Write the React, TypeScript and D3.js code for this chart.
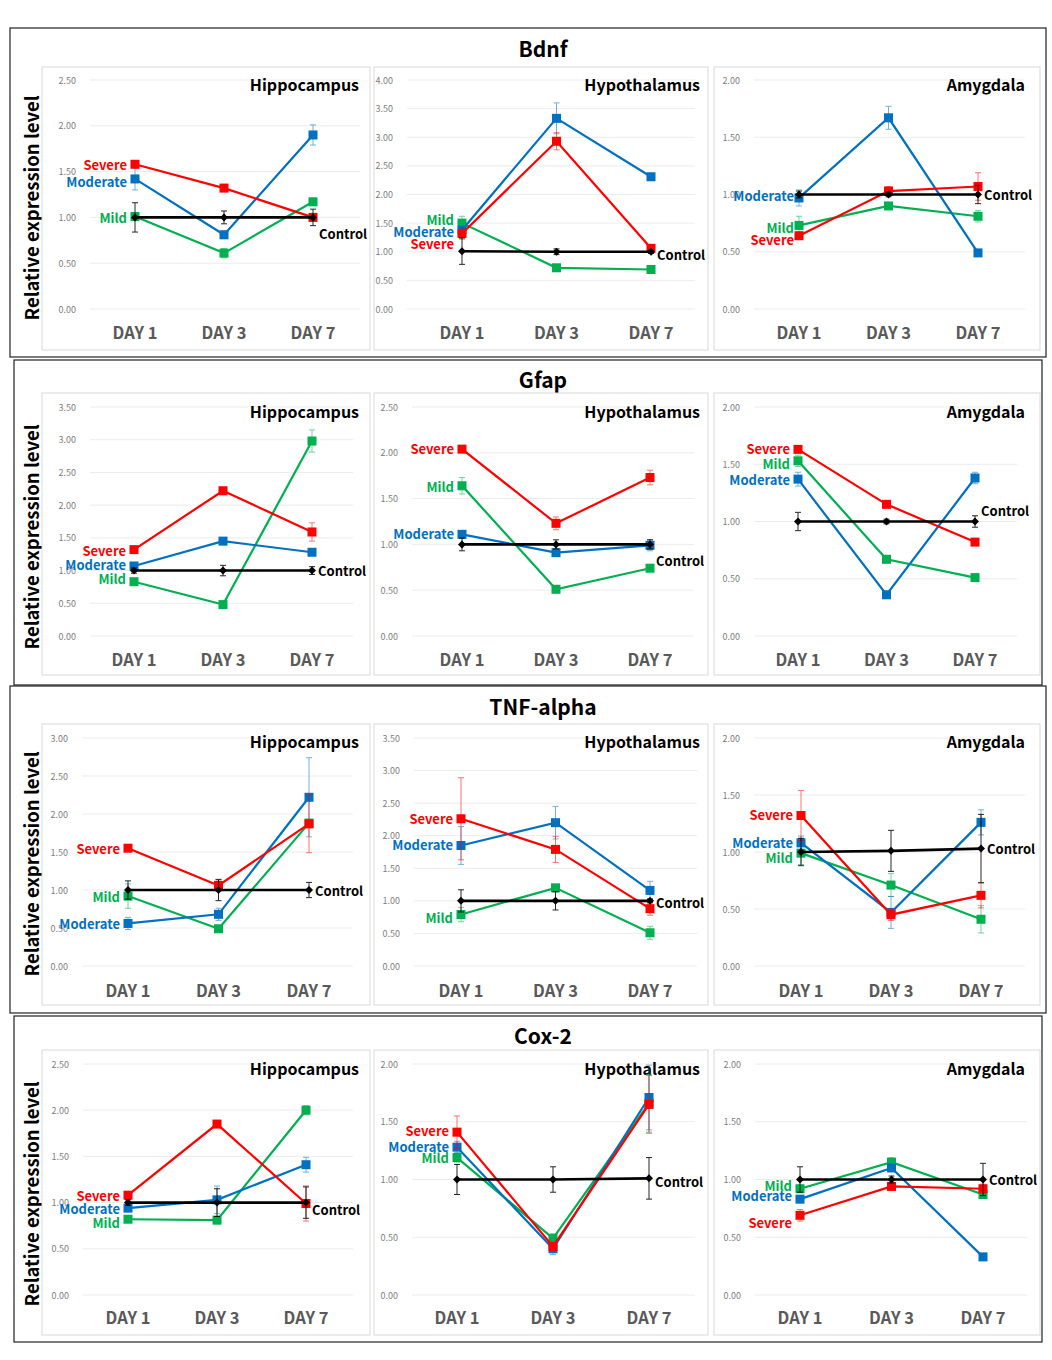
import React from 'react';
import * as d3 from 'd3';

const days = ['DAY 1', 'DAY 3', 'DAY 7'];
const genes = ['Bdnf', 'Gfap', 'TNF-alpha', 'Cox-2'];
const regions = ['Hippocampus', 'Hypothalamus', 'Amygdala'];
const groups = ['Mild', 'Moderate', 'Severe', 'Control'];
const yMax = [[2.5, 4, 2], [3.5, 2.5, 2], [3, 3.5, 2], [2.5, 2, 2]];

// values: [gene][region][day]
const mild = [
  [[1.01, 0.61, 1.17], [1.5, 0.72, 0.69], [0.73, 0.9, 0.81]],
  [[0.83, 0.48, 2.98], [1.64, 0.51, 0.74], [1.53, 0.67, 0.51]],
  [[0.92, 0.49, 1.88], [0.79, 1.2, 0.51], [0.99, 0.71, 0.41]],
  [[0.82, 0.81, 2.0], [1.19, 0.49, 1.66], [0.92, 1.15, 0.87]],
];
const mildErr = [
  [[0.04, 0.05, 0.04], [0.12, 0.03, 0.03], [0.08, 0.03, 0.05]],
  [[0.04, 0.03, 0.17], [0.09, 0.03, 0.03], [0.05, 0.03, 0.03]],
  [[0.16, 0.03, 0.05], [0.11, 0.05, 0.1], [0.1, 0.1, 0.12]],
  [[0.03, 0.03, 0.05], [0.04, 0.04, 0.25], [0.03, 0.04, 0.03]],
];
const moderate = [
  [[1.42, 0.81, 1.9], [1.38, 3.33, 2.31], [0.97, 1.67, 0.49]],
  [[1.07, 1.45, 1.28], [1.11, 0.91, 0.99], [1.37, 0.36, 1.38]],
  [[0.56, 0.68, 2.22], [1.85, 2.2, 1.16], [1.08, 0.47, 1.26]],
  [[0.94, 1.03, 1.41], [1.28, 0.4, 1.71], [0.83, 1.1, 0.33]],
];
const moderateErr = [
  [[0.12, 0.04, 0.11], [0.05, 0.27, 0.04], [0.07, 0.1, 0.03]],
  [[0.04, 0.04, 0.04], [0.03, 0.03, 0.06], [0.06, 0.03, 0.05]],
  [[0.08, 0.08, 0.52], [0.29, 0.25, 0.14], [0.06, 0.14, 0.11]],
  [[0.03, 0.15, 0.08], [0.05, 0.05, 0.28], [0.03, 0.03, 0.02]],
];
const severe = [
  [[1.58, 1.32, 1.0], [1.32, 2.93, 1.06], [0.64, 1.03, 1.07]],
  [[1.32, 2.22, 1.59], [2.04, 1.23, 1.73], [1.63, 1.15, 0.82]],
  [[1.55, 1.06, 1.87], [2.26, 1.79, 0.88], [1.32, 0.45, 0.62]],
  [[1.08, 1.85, 0.99], [1.41, 0.42, 1.65], [0.69, 0.94, 0.92]],
];
const severeErr = [
  [[0.02, 0.03, 0.03], [0.1, 0.15, 0.04], [0.03, 0.04, 0.12]],
  [[0.04, 0.04, 0.14], [0.03, 0.07, 0.08], [0.03, 0.03, 0.03]],
  [[0.03, 0.07, 0.38], [0.63, 0.2, 0.1], [0.22, 0.05, 0.11]],
  [[0.03, 0.03, 0.19], [0.14, 0.03, 0.25], [0.05, 0.03, 0.04]],
];
const control = [
  [[1.0, 1.0, 1.0], [1.01, 1.0, 1.0], [1.0, 1.0, 1.0]],
  [[1.0, 1.0, 1.0], [1.0, 1.0, 1.0], [1.0, 1.0, 1.0]],
  [[1.0, 1.0, 1.0], [1.0, 1.0, 1.0], [1.0, 1.01, 1.03]],
  [[1.0, 1.0, 1.0], [1.0, 1.0, 1.01], [1.0, 1.0, 1.0]],
];
const controlErr = [
  [[0.16, 0.07, 0.09], [0.23, 0.05, 0.03], [0.03, 0.02, 0.08]],
  [[0.04, 0.08, 0.06], [0.07, 0.05, 0.05], [0.08, 0.02, 0.05]],
  [[0.12, 0.14, 0.1], [0.17, 0.14, 0.03], [0.12, 0.18, 0.3]],
  [[0.03, 0.15, 0.17], [0.13, 0.11, 0.18], [0.11, 0.03, 0.14]],
];
// label anchor values [gene][region] -> [Mild, Moderate, Severe, Control]
const labelAt = [
  [[1.0, 1.39, 1.58, 0.82], [1.56, 1.35, 1.14, 0.95], [0.71, 0.99, 0.61, 1.0]],
  [[0.88, 1.1, 1.31, 1.0], [1.63, 1.12, 2.05, 0.82], [1.51, 1.37, 1.64, 1.1]],
  [[0.91, 0.56, 1.55, 1.0], [0.75, 1.86, 2.26, 0.97], [0.95, 1.08, 1.33, 1.03]],
  [[0.79, 0.94, 1.08, 0.92], [1.19, 1.29, 1.42, 0.98], [0.95, 0.865, 0.63, 1.0]],
];

const seriesData = [mild, moderate, severe, control];
const seriesErr = [mildErr, moderateErr, severeErr, controlErr];
const colors = ['#00B050', '#0070C0', '#FF0000', '#000000'];

// layout
const rowsLayout = [
  { box: [10, 28, 1046, 357], geneY: 48, axisY: 208, panel: [67, 350], plot: [80, 309], titleY: 84, dayY: 332 },
  { box: [14, 360, 1042, 685], geneY: 379, axisY: 537, panel: [393, 675], plot: [407, 636], titleY: 411, dayY: 659 },
  { box: [10, 686, 1046, 1013], geneY: 706, axisY: 864, panel: [724, 1005], plot: [738, 966], titleY: 741, dayY: 990 },
  { box: [14, 1016, 1042, 1342], geneY: 1035, axisY: 1194, panel: [1050, 1335], plot: [1064, 1295], titleY: 1068, dayY: 1317 },
];
const colPanelX = [[42, 370], [374, 708], [714, 1040]];
const dayRange = [
  [[135, 313], [462, 651], [799, 978]],
  [[134, 312], [462, 650], [798, 975]],
  [[128, 309], [461, 650], [801, 981]],
  [[128, 306], [457, 649], [800, 983]],
];
const gridRange = [
  [[90, 360], [407, 695], [754, 1025]],
  [[90, 353], [412, 694], [754, 1017]],
  [[82, 353], [414, 697], [754, 1025]],
  [[83, 353], [412, 695], [755, 1027]],
];
const titleRight = [359, 700, 1025];

const FONT = '"Noto Sans CJK KR", "Noto Sans", sans-serif';

function Panel({ g, r }: { g: number; r: number }) {
  const row = rowsLayout[g];
  const [px0, px1] = colPanelX[r];
  const y = d3.scaleLinear().domain([0, yMax[g][r]]).range([row.plot[1], row.plot[0]]);
  const x = d3.scalePoint<string>().domain(days).range(dayRange[g][r] as [number, number]);
  const ticks = d3.range(0, yMax[g][r] + 0.001, 0.5);
  const [gl, gr] = gridRange[g][r];
  const line = d3
    .line<number>()
    .x((_, i) => x(days[i]) as number)
    .y((d) => y(d));
  const fmt = d3.format('.2f');
  const x1 = x(days[0]) as number;
  const x7 = x(days[2]) as number;
  return (
    <g>
      <rect x={px0} y={row.panel[0]} width={px1 - px0} height={row.panel[1] - row.panel[0]} fill="#fff" stroke="#d9d9d9" strokeWidth={1} />
      {ticks.map((t) => (
        <g key={t}>
          <line x1={gl} x2={gr} y1={y(t)} y2={y(t)} stroke="#ececec" strokeWidth={1} />
          <text x={gl - 14} y={y(t)} textAnchor="end" dominantBaseline="central" fontSize={9} fill="#808080" fontFamily={FONT}>
            {fmt(t)}
          </text>
        </g>
      ))}
      {days.map((d) => (
        <text key={d} x={x(d)} y={row.dayY} textAnchor="middle" dominantBaseline="central" fontSize={16.5} fontWeight="bold" fill="#595959" fontFamily={FONT}>
          {d}
        </text>
      ))}
      <text x={titleRight[r]} y={row.titleY} textAnchor="end" dominantBaseline="central" fontSize={16} fontWeight="bold" fill="#000" fontFamily={FONT}>
        {regions[r]}
      </text>
      {groups.map((grp, si) => {
        const vals = seriesData[si][g][r];
        const errs = seriesErr[si][g][r];
        const c = colors[si];
        const isCtrl = si === 3;
        return (
          <g key={grp}>
            <path d={line(vals) as string} fill="none" stroke={c} strokeWidth={isCtrl ? 2.6 : 2.2} />
            {vals.map((v, i) => {
              const cx = x(days[i]) as number;
              return (
                <g key={i} opacity={isCtrl ? 0.85 : 0.55}>
                  <line x1={cx} x2={cx} y1={y(v + errs[i])} y2={y(v - errs[i])} stroke={c} strokeWidth={1} />
                  <line x1={cx - 3} x2={cx + 3} y1={y(v + errs[i])} y2={y(v + errs[i])} stroke={c} strokeWidth={1} />
                  <line x1={cx - 3} x2={cx + 3} y1={y(v - errs[i])} y2={y(v - errs[i])} stroke={c} strokeWidth={1} />
                </g>
              );
            })}
            {vals.map((v, i) => {
              const cx = x(days[i]) as number;
              const cy = y(v);
              return isCtrl ? (
                <path key={'m' + i} d={`M${cx},${cy - 4}L${cx + 4},${cy}L${cx},${cy + 4}L${cx - 4},${cy}Z`} fill={c} />
              ) : (
                <rect key={'m' + i} x={cx - 4.5} y={cy - 4.5} width={9} height={9} fill={c} />
              );
            })}
            {isCtrl ? (
              <text x={x7 + 6} y={y(labelAt[g][r][si])} dominantBaseline="central" fontSize={13} fontWeight="bold" fill="#000" fontFamily={FONT}>
                {grp}
              </text>
            ) : (
              <text x={x1 - (r === 2 && g === 0 ? 5 : 8)} y={y(labelAt[g][r][si])} textAnchor="end" dominantBaseline="central" fontSize={13} fontWeight="bold" fill={c} fontFamily={FONT}>
                {grp}
              </text>
            )}
          </g>
        );
      })}
    </g>
  );
}

export default function App() {
  return (
    <svg width={1052} height={1360} style={{ position: 'absolute', left: 0, top: 0, background: '#fff' }}>
      <rect x={0} y={0} width={1052} height={1360} fill="#fff" />
      {genes.map((gene, g) => {
        const row = rowsLayout[g];
        const [bx0, by0, bx1, by1] = row.box;
        return (
          <g key={gene}>
            <rect x={bx0} y={by0} width={bx1 - bx0} height={by1 - by0} fill="none" stroke="#222" strokeWidth={1.2} />
            <text x={543} y={row.geneY} textAnchor="middle" dominantBaseline="central" fontSize={21} fontWeight="bold" fill="#000" fontFamily={FONT}>
              {gene}
            </text>
            <text transform={`translate(31,${row.axisY}) rotate(-90)`} textAnchor="middle" dominantBaseline="central" fontSize={18.5} fontWeight="bold" fill="#000" fontFamily={FONT}>
              Relative expression level
            </text>
            {regions.map((reg, r) => (
              <Panel key={reg} g={g} r={r} />
            ))}
          </g>
        );
      })}
    </svg>
  );
}
